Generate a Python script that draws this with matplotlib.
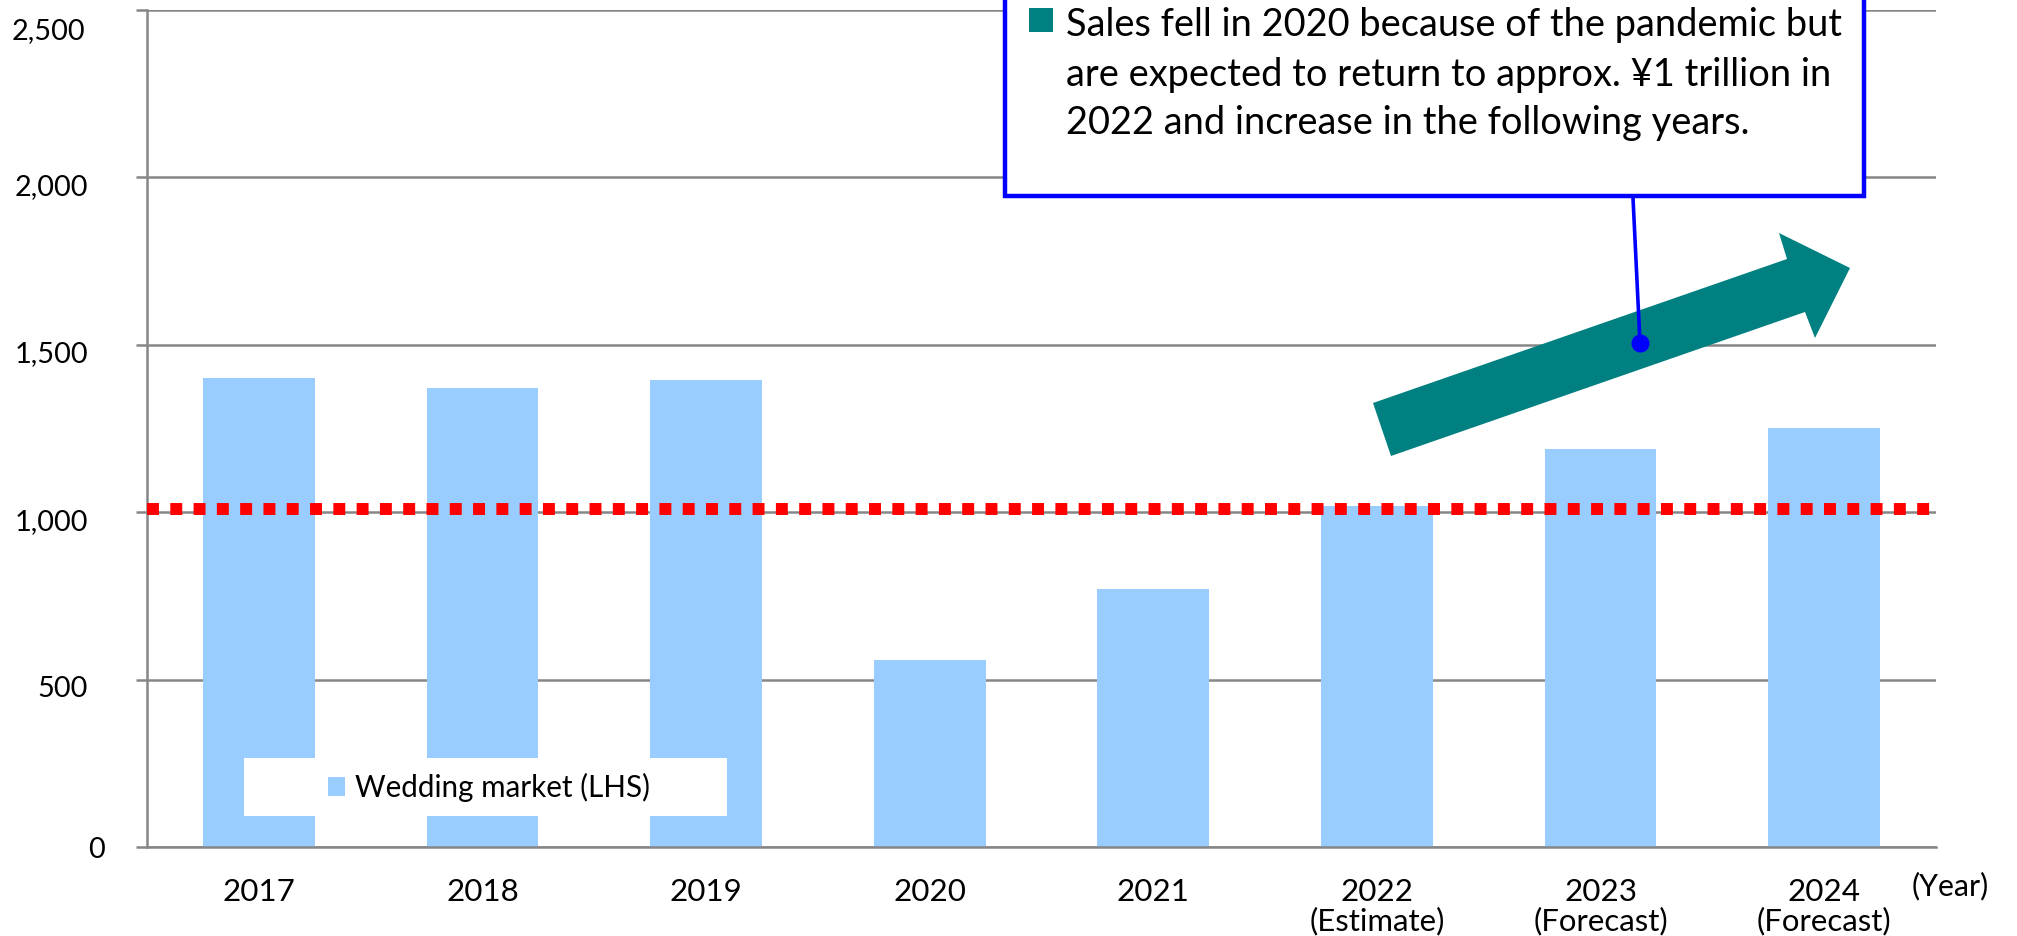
import matplotlib
matplotlib.use("Agg")
import matplotlib.pyplot as plt
from matplotlib.patches import Rectangle, Polygon, Patch
from matplotlib.lines import Line2D
from matplotlib.transforms import ScaledTranslation, blended_transform_factory

# ---- data ----
years = ["2017", "2018", "2019", "2020", "2021", "2022", "2023", "2024"]
year_notes = ["", "", "", "", "", "(Estimate)", "(Forecast)", "(Forecast)"]
market = [1400, 1370, 1395, 560, 770, 1020, 1190, 1250]
benchmark = 1010
y_ticks = [0, 500, 1000, 1500, 2000, 2500]
y_tick_labels = ["0", "500", "1,000", "1,500", "2,000", "2,500"]
series_label = "Wedding market (LHS)"
x_unit = "(Year)"
note_lines = [
    "Sales fell in 2020 because of the pandemic but",
    "are expected to return to approx. \u00a51 trillion in",
    "2022 and increase in the following years.",
]

# ---- style ----
BAR = "#99CCFF"
GRID = "#868686"
TEAL = "#008080"
BLUE = "#0000FF"
RED = "#FF0000"

W, H, DPI = 2017, 936, 100
plt.rcParams["font.family"] = ["Lato", "DejaVu Sans"]
fig = plt.figure(figsize=(W / DPI, H / DPI), dpi=DPI)


def fx(x):
    return x / W


def fy(y):
    return 1 - y / H


ax_l, ax_r, ax_t, ax_b = 147, 1936, 10, 847
ax = fig.add_axes([fx(ax_l), fy(ax_b), (ax_r - ax_l) / W, (ax_b - ax_t) / H])

x = list(range(len(years)))
ax.bar(x, market, width=0.5, color=BAR, zorder=2)
ax.plot([-0.5, 7.5], [benchmark, benchmark], color=RED, lw=8.6,
        ls=(0, (1, 0.95)), dash_capstyle="butt", zorder=3, clip_on=False)

ax.set_xlim(-0.5, 7.5)
ax.set_ylim(0, 2500)
ax.set_xticks([])
ax.set_yticks(y_ticks, y_tick_labels)
ax.yaxis.grid(True, color=GRID, lw=1.8, zorder=0)
ax.set_axisbelow(True)
ax.tick_params(axis="y", length=8, width=1.8, color=GRID, pad=34.5,
               labelsize=20.8, labelcolor="black")
for side in ("top", "right"):
    ax.spines[side].set_visible(False)
for side in ("left", "bottom"):
    ax.spines[side].set_color(GRID)
    ax.spines[side].set_linewidth(1.8)

# nudge the y labels the way the layout sets them
shifts = {"0": (17, 0), "2,500": (-3, -19)}
for lab in ax.get_yticklabels():
    dx, dy = shifts.get(lab.get_text(), (0, -7))
    lab.set_transform(lab.get_transform() + ScaledTranslation(dx / DPI, dy / DPI, fig.dpi_scale_trans))

# category labels under the axis
xt = blended_transform_factory(ax.transData, fig.transFigure)
for i, (yr, note) in enumerate(zip(years, year_notes)):
    ax.text(i, fy(892), yr, transform=xt, ha="center", va="center", fontsize=22.6, clip_on=False)
    if note:
        ax.text(i, fy(921), note, transform=xt, ha="center", va="center", fontsize=22.4, clip_on=False)
fig.text(fx(1912), fy(886), x_unit, ha="left", va="center", fontsize=21.8)

# legend on a white panel
ax.add_patch(Rectangle((fx(244), fy(816)), (727 - 244) / W, (816 - 758) / H,
                       transform=fig.transFigure, facecolor="white", edgecolor="none",
                       zorder=4, clip_on=False))
leg = ax.legend(handles=[Patch(facecolor=BAR, edgecolor="none", label=series_label)],
                loc="center", bbox_to_anchor=(fx(489), fy(787)), bbox_transform=fig.transFigure,
                frameon=False, fontsize=21.3, handlelength=0.6, handleheight=0.6,
                handletextpad=0.33, borderpad=0)
leg.set_zorder(5)

# upward trend arrow
arrow_px = [(1373, 403), (1391, 456), (1805, 312), (1815, 338),
            (1850, 268), (1779, 233), (1787, 259)]
fig.add_artist(Polygon([(fx(a), fy(b)) for a, b in arrow_px], closed=True,
                       transform=fig.transFigure, facecolor=TEAL, edgecolor="none", zorder=6))

# callout box
fig.add_artist(Rectangle((fx(1005), fy(196)), (1864 - 1005) / W, (196 + 30) / H,
                         transform=fig.transFigure, facecolor="white", edgecolor=BLUE,
                         lw=3.2, zorder=7, clip_on=False))
fig.add_artist(Rectangle((fx(1029), fy(32)), 24 / W, 24 / H, transform=fig.transFigure,
                         facecolor=TEAL, edgecolor="none", zorder=8))
for line, base in zip(note_lines, [36, 86, 134]):
    fig.text(fx(1066), fy(base), line, ha="left", va="baseline", fontsize=27.4, zorder=8)

fig.add_artist(Line2D([fx(1633), fx(1640)], [fy(198), fy(343)], transform=fig.transFigure,
                      color=BLUE, lw=2.6, zorder=8))
fig.add_artist(Line2D([fx(1640)], [fy(343)], transform=fig.transFigure, marker="o",
                      markersize=12, color=BLUE, lw=0, zorder=8))

fig.savefig("out.png", dpi=DPI)
